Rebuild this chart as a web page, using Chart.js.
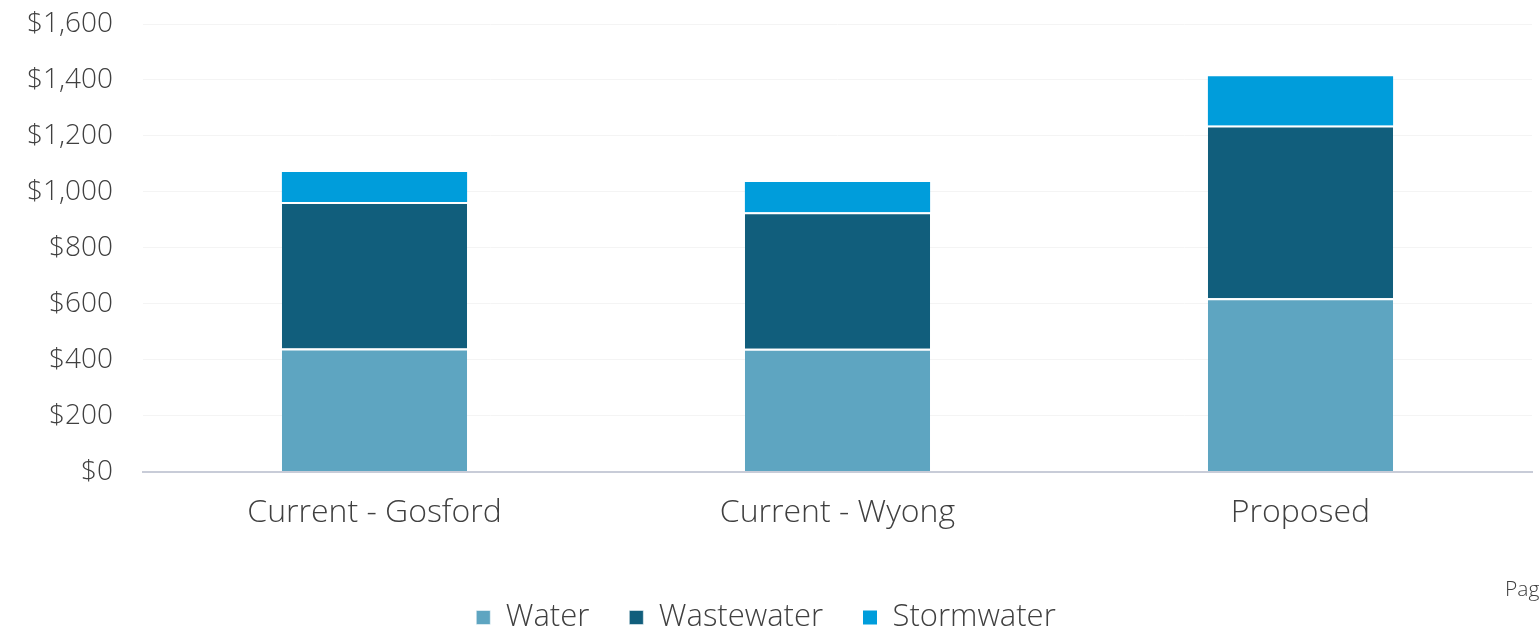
<!DOCTYPE html>
<html>
<head>
<meta charset="utf-8">
<script src="https://cdn.jsdelivr.net/npm/chart.js@4"></script>
<style>
    html, body { margin: 0; padding: 0; background: #fff; overflow: hidden; }
    #wrap { position: relative; width: 1540px; height: 630px; }
    #page-note {
        position: absolute; left: 1505px; top: 574px;
        font-family: "Open Sans", sans-serif; font-weight: 300; font-size: 21px; color: #404040;
        white-space: nowrap;
    }
</style>
</head>
<body>
<div id="wrap">
    <canvas id="billChart" width="1540" height="630"></canvas>
    <div id="page-note">Page</div>
</div>
<script>
// Annual bill components ($)
const categories = ['Current - Gosford', 'Current - Wyong', 'Proposed'];
const waterBill = [440, 439, 620];
const wastewaterBill = [524, 488, 617];
const stormwaterBill = [107, 108, 176];
const yTicks = [0, 200, 400, 600, 800, 1000, 1200, 1400, 1600];

const textColor = '#404040';
const fontFamily = '"Open Sans", sans-serif';

function money(v) {
    return '$' + v.toLocaleString('en-US');
}

// trim the legend box so the plot sits a little lower
const legendTrim = {
    id: 'legendTrim',
    beforeInit(chart) {
        const fit = chart.legend.fit;
        chart.legend.fit = function () {
            fit.call(this);
            this.height -= 13;
        };
    }
};

const ctx = document.getElementById('billChart').getContext('2d');
const billChart = new Chart(ctx, {
    type: 'bar',
    data: {
        labels: categories,
        datasets: [
            {
                label: 'Water',
                data: waterBill,
                backgroundColor: '#5ea5c1',
                borderColor: '#ffffff',
                borderWidth: { top: 2, left: 0, right: 0, bottom: 0 },
                borderSkipped: false
            },
            {
                label: 'Wastewater',
                data: wastewaterBill,
                backgroundColor: '#115e7c',
                borderColor: '#ffffff',
                borderWidth: { top: 2, left: 0, right: 0, bottom: 0 },
                borderSkipped: false
            },
            {
                label: 'Stormwater',
                data: stormwaterBill,
                backgroundColor: '#009ddb',
                borderWidth: 0
            }
        ]
    },
    options: {
        responsive: false,
        animation: false,
        categoryPercentage: 0.4,
        barPercentage: 1.0,
        layout: { padding: { top: 24, right: 8, left: 0, bottom: 0 } },
        scales: {
            x: {
                stacked: true,
                grid: { display: false, drawTicks: false },
                border: { display: true, color: '#c8ccd8', width: 2 },
                afterFit: axis => { axis.height += 8; },
                ticks: {
                    color: textColor,
                    padding: 22,
                    font: { family: fontFamily, size: 32, weight: 300 }
                }
            },
            y: {
                stacked: true,
                min: 0,
                max: 1600,
                afterBuildTicks: axis => { axis.ticks = yTicks.map(v => ({ value: v })); },
                afterFit: axis => {
                    axis.width = 143;
                    axis.paddingTop = 0;
                    axis.paddingBottom = 0;
                },
                grid: { color: '#f4f4f4', drawTicks: false },
                border: { display: false },
                ticks: {
                    color: textColor,
                    padding: 30,
                    font: { family: fontFamily, size: 28, weight: 300 },
                    callback: v => money(v)
                }
            }
        },
        plugins: {
            tooltip: { enabled: false },
            legend: {
                position: 'bottom',
                labels: {
                    color: textColor,
                    boxWidth: 14,
                    boxHeight: 14,
                    padding: 40,
                    font: { family: fontFamily, size: 31, weight: 300 }
                }
            }
        }
    },
    plugins: [legendTrim]
});
</script>
</body>
</html>
